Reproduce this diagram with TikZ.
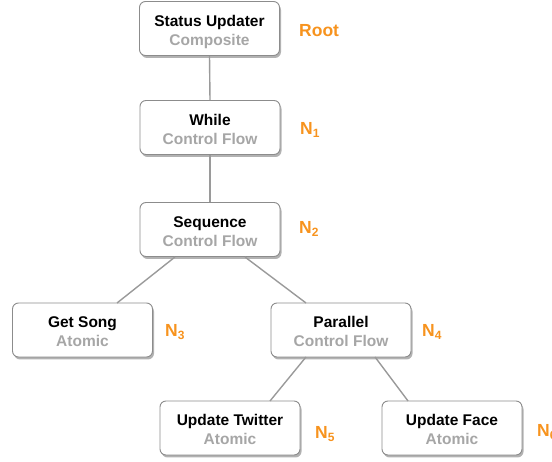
\documentclass[tikz,border=0pt]{standalone}
\usepackage{fontspec}
\setmainfont{Liberation Sans}
\usetikzlibrary{shadows}
\definecolor{orng}{HTML}{F7931E}
\definecolor{subgray}{HTML}{A6A6A6}
\definecolor{edgegray}{HTML}{9A9A9A}
\definecolor{boxborder}{HTML}{8C8C8C}
\begin{document}
\begin{tikzpicture}[x=1pt,y=-1pt,
  box/.style={draw=boxborder, line width=0.9pt, rounded corners=6pt, fill=white,
    minimum width=140pt, minimum height=54pt, align=center, inner sep=0pt,
    font=\fontsize{15.5}{19}\selectfont\bfseries,
    drop shadow={opacity=0.3, shadow xshift=1.5pt, shadow yshift=-2.5pt, fill=black}},
  lbl/.style={text=orng, font=\fontsize{17.5}{20}\selectfont\bfseries, anchor=west, inner sep=0pt},
  edge/.style={draw=edgegray, line width=1.4pt}]
\useasboundingbox (0,0) rectangle (552,462);
\newcommand{\boxtext}[2]{\rule{0pt}{20pt}#1\\{\color{subgray}#2}\rule[-5pt]{0pt}{5pt}}
\newcommand{\subnum}[1]{\textsubscript{\fontsize{12}{14}\selectfont #1}}
\node[box] (root) at (209.5,28.5) {\boxtext{Status Updater}{Composite}};
\node[box] (while) at (210,127.5) {\boxtext{While}{Control Flow}};
\node[box] (seq) at (210,229.5) {\boxtext{Sequence}{Control Flow}};
\node[box] (song) at (82.5,330) {\boxtext{Get Song}{Atomic}};
\node[box] (par) at (341,330) {\boxtext{Parallel}{Control Flow}};
\node[box] (tw) at (230,428) {\boxtext{Update Twitter}{Atomic}};
\node[box] (fb) at (452,428) {\boxtext{Update Face}{Atomic}};
\coordinate (s1) at (175,257);
\coordinate (s2) at (245,257);
\coordinate (g1) at (117,303);
\coordinate (p1) at (306,303);
\coordinate (p2) at (306,357);
\coordinate (p3) at (375,357);
\coordinate (t1) at (270,401);
\coordinate (f1) at (408,401);
\draw[edge] (root.south) -- (while.north);
\draw[edge] (while.south) -- (seq.north);
\draw[edge] (s1) -- (g1);
\draw[edge] (s2) -- (p1);
\draw[edge] (p2) -- (t1);
\draw[edge] (p3) -- (f1);
\node[lbl] (lroot) at (299,31) {Root};
\node[lbl] (l1) at (300,130) {N\subnum{1}};
\node[lbl] (l2) at (299,229) {N\subnum{2}};
\node[lbl] (l3) at (165,332) {N\subnum{3}};
\node[lbl] (l4) at (422,332) {N\subnum{4}};
\node[lbl] (l5) at (315,434) {N\subnum{5}};
\node[lbl] (l6) at (537,432) {N\subnum{6}};
\end{tikzpicture}
\end{document}
